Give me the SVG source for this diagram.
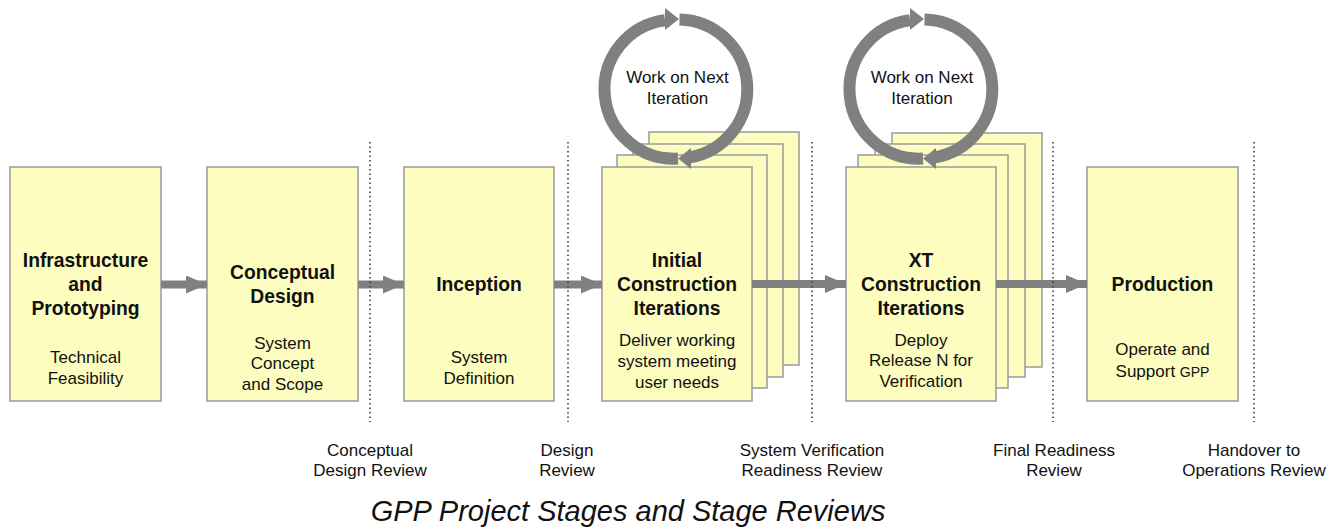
<svg xmlns="http://www.w3.org/2000/svg" width="1342" height="529" viewBox="0 0 1342 529">
<style>
.box{fill:#FEFDC0;stroke:#9a9a9a;stroke-width:1.5}
.t{font-family:"Liberation Sans",Arial,sans-serif;font-weight:bold;font-size:19.3px;fill:#111;text-anchor:middle}
.s{font-family:"Liberation Sans",Arial,sans-serif;font-size:17px;fill:#111;text-anchor:middle}
.lbl{font-family:"Liberation Sans",Arial,sans-serif;font-size:17px;fill:#111;text-anchor:middle}
.ring{fill:none;stroke:#808080;stroke-width:12}
.rh{fill:#808080}
.arr{stroke:#808080;stroke-width:8;fill:none}
.dot{stroke:#333;stroke-width:1.5;stroke-dasharray:1.5 3;fill:none}
.title{font-family:"Liberation Sans",Arial,sans-serif;font-style:italic;font-size:29px;fill:#111;text-anchor:middle}
</style>
<defs>
<marker id="ah" markerUnits="userSpaceOnUse" markerWidth="22" markerHeight="18" refX="21" refY="9" orient="auto">
<path d="M0,0 L21,9 L0,18 Z" fill="#808080"/>
</marker>
</defs>

<g id="node-infrastructure">
<rect class="box" x="10" y="167" width="151" height="234"/>
<text class="t" x="85.5" y="267">Infrastructure</text>
<text class="t" x="85.5" y="291">and</text>
<text class="t" x="85.5" y="315">Prototyping</text>
<text class="s" x="85.5" y="363">Technical</text>
<text class="s" x="85.5" y="384">Feasibility</text>
</g>

<g id="node-conceptual">
<rect class="box" x="207" y="167" width="151" height="234"/>
<text class="t" x="282.5" y="279">Conceptual</text>
<text class="t" x="282.5" y="303">Design</text>
<text class="s" x="282.5" y="349">System</text>
<text class="s" x="282.5" y="369">Concept</text>
<text class="s" x="282.5" y="390">and Scope</text>
</g>

<g id="node-inception">
<rect class="box" x="404" y="167" width="150" height="234"/>
<text class="t" x="479" y="291">Inception</text>
<text class="s" x="479" y="363">System</text>
<text class="s" x="479" y="384">Definition</text>
</g>

<g id="node-initial">
<rect class="box" x="649" y="132" width="150" height="233"/>
<rect class="box" x="633" y="144" width="150" height="233"/>
<rect class="box" x="617" y="155" width="150" height="233"/>
<rect class="box" x="602" y="167" width="150" height="234"/>
<text class="t" x="677" y="267">Initial</text>
<text class="t" x="677" y="291">Construction</text>
<text class="t" x="677" y="315">Iterations</text>
<text class="s" x="677" y="346">Deliver working</text>
<text class="s" x="677" y="367">system meeting</text>
<text class="s" x="677" y="388">user needs</text>
</g>

<g id="node-xt">
<rect class="box" x="892" y="133" width="150" height="234"/>
<rect class="box" x="875" y="144" width="150" height="233"/>
<rect class="box" x="858" y="155" width="150" height="233"/>
<rect class="box" x="846" y="167" width="150" height="234"/>
<text class="t" x="921" y="267">XT</text>
<text class="t" x="921" y="291">Construction</text>
<text class="t" x="921" y="315">Iterations</text>
<text class="s" x="921" y="346">Deploy</text>
<text class="s" x="921" y="366">Release N for</text>
<text class="s" x="921" y="387">Verification</text>
</g>

<g id="node-production">
<rect class="box" x="1087" y="167" width="151" height="234"/>
<text class="t" x="1162.5" y="291">Production</text>
<text class="s" x="1162.5" y="355">Operate and</text>
<text class="s" x="1162.5" y="377">Support <tspan font-size="14px">GPP</tspan></text>
</g>

<g id="loop-initial">
<path class="ring" d="M678,158.5 A69.5,69.5 0 0 1 665,20.2"/>
<path class="ring" d="M679.5,19.5 A69.5,69.5 0 0 1 690,157.4"/>
<polygon class="rh" points="665,8 679,19 665,30"/>
<polygon class="rh" points="691,148 678,158.5 691,169"/>
<text class="s" x="677.5" y="83">Work on Next</text>
<text class="s" x="677.5" y="104">Iteration</text>
</g>

<g id="loop-xt">
<path class="ring" d="M923,158.5 A69.5,69.5 0 0 1 910,20.2"/>
<path class="ring" d="M924.5,19.5 A69.5,69.5 0 0 1 935,157.4"/>
<polygon class="rh" points="910,8 924,19 910,30"/>
<polygon class="rh" points="936,148 923,158.5 936,169"/>
<text class="s" x="922" y="83">Work on Next</text>
<text class="s" x="922" y="104">Iteration</text>
</g>

<g id="connectors">
<line class="arr" x1="161" y1="284.5" x2="207" y2="284.5" marker-end="url(#ah)"/>
<line class="arr" x1="358" y1="284.5" x2="404" y2="284.5" marker-end="url(#ah)"/>
<line class="arr" x1="554" y1="284.5" x2="602" y2="284.5" marker-end="url(#ah)"/>
<line class="arr" x1="752" y1="284" x2="846" y2="284" marker-end="url(#ah)"/>
<line class="arr" x1="996" y1="284" x2="1087" y2="284" marker-end="url(#ah)"/>
</g>

<g id="reviews">
<line class="dot" x1="370" y1="142" x2="370" y2="422"/>
<line class="dot" x1="568" y1="142" x2="568" y2="422"/>
<line class="dot" x1="812" y1="142" x2="812" y2="422"/>
<line class="dot" x1="1053" y1="142" x2="1053" y2="422"/>
<line class="dot" x1="1254" y1="142" x2="1254" y2="422"/>
<text class="lbl" x="370" y="456">Conceptual</text>
<text class="lbl" x="370" y="476">Design Review</text>
<text class="lbl" x="567" y="456">Design</text>
<text class="lbl" x="567" y="476">Review</text>
<text class="lbl" x="812" y="456">System Verification</text>
<text class="lbl" x="812" y="476">Readiness Review</text>
<text class="lbl" x="1054" y="456">Final Readiness</text>
<text class="lbl" x="1054" y="476">Review</text>
<text class="lbl" x="1254" y="456">Handover to</text>
<text class="lbl" x="1254" y="476">Operations Review</text>
</g>

<text class="title" x="628" y="521">GPP Project Stages and Stage Reviews</text>
</svg>
